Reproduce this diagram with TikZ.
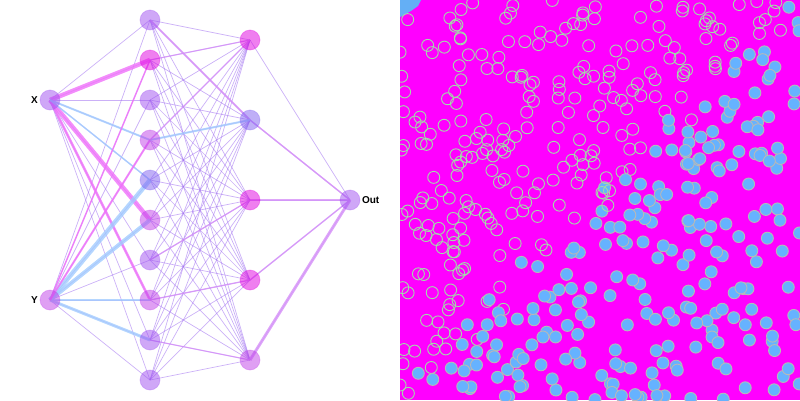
\documentclass[tikz,border=0pt]{standalone}
\usepackage{fontspec}
\setsansfont{Liberation Sans}
\usetikzlibrary{backgrounds}

\definecolor{nnpurple}{HTML}{A050F0}
\definecolor{nnmagenta}{HTML}{E000E0}
\definecolor{nnviolet}{HTML}{8060F0}
\definecolor{nnorchid}{HTML}{C040E8}
\definecolor{wirethin}{HTML}{A070F0}
\definecolor{wiremag}{HTML}{F070FA}
\definecolor{wireorchid}{HTML}{D690F8}
\definecolor{wireblue}{HTML}{A2CCFF}
\definecolor{field}{HTML}{FF00FF}
\definecolor{fieldblue}{HTML}{64AFF5}
\definecolor{dotblue}{HTML}{66B2FF}
\definecolor{ringgreen}{HTML}{A2DCA8}
\definecolor{dotrim}{HTML}{B8B8B8}

\tikzset{
  unit/.style={circle, inner sep=0pt, minimum size=20pt, fill=#1, fill opacity=0.5,
    draw=#1, draw opacity=0.3, line width=0.8pt},
  wire/.style={draw=wirethin, opacity=0.55, line width=0.7pt},
  tag/.style={font=\sffamily\bfseries\fontsize{10}{11}\selectfont, inner sep=1.5pt},
  ringdot/.style={draw=ringgreen, line width=0.9pt},
  bluedot/.style={fill=dotblue, draw=dotrim, line width=0.9pt}
}

\begin{document}
\begin{tikzpicture}[x=1pt, y=-1pt]
\useasboundingbox (0,0) rectangle (800,400);

% network
\node[unit=nnpurple] (inX) at (50,100) {};
\node[unit=nnorchid] (inY) at (50,300) {};
\foreach \k/\c in {1/nnpurple, 2/nnmagenta, 3/nnpurple, 4/nnorchid, 5/nnviolet,
                   6/nnorchid, 7/nnpurple, 8/nnorchid, 9/nnpurple, 10/nnpurple}
  \node[unit=\c] (a\k) at (150,40*\k-20) {};
\foreach \k/\c in {1/nnmagenta, 2/nnviolet, 3/nnmagenta, 4/nnmagenta, 5/nnorchid}
  \node[unit=\c] (b\k) at (250,80*\k-40) {};
\node[unit=nnpurple] (out) at (350,200) {};

\node[tag, anchor=east] (labX) at (inX.west) {X};
\node[tag, anchor=east] (labY) at (inY.west) {Y};
\node[tag, anchor=west] (labOut) at (out.east) {Out};

\begin{pgfonlayer}{background}
\foreach \s in {inX,inY}
  \foreach \t in {1,...,10}
    \draw[wire] (\s.center) -- (a\t.center);
\foreach \s in {1,...,10}
  \foreach \t in {1,...,5}
    \draw[wire] (a\s.center) -- (b\t.center);
\foreach \s in {1,...,5}
  \draw[wire] (b\s.center) -- (out.center);
% strong weights
\foreach \s/\t/\c/\w in {inX/a2/wiremag/4.5, inX/a6/wiremag/4.5, inX/a8/wiremag/2.5,
    inX/a4/wireblue/2, inX/a5/wireblue/1.5, inY/a5/wireblue/4.5, inY/a6/wireblue/4,
    inY/a9/wireblue/3, inY/a8/wireblue/1.5, inY/a4/wiremag/2, inY/a2/wiremag/1.5,
    a1/b2/wireorchid/1.8, a4/b2/wireblue/2, a4/b1/wireorchid/1.3, a2/b1/wireorchid/1.1,
    a7/b3/wireorchid/1.3, a8/b4/wireorchid/1.3, a9/b5/wireorchid/1.1,
    b2/out/wireorchid/1.5, b3/out/wireorchid/1.4, b4/out/wireorchid/1.4, b5/out/wireorchid/3}
  \draw[draw=\c, opacity=0.8, line width=\w pt] (\s.center) -- (\t.center);
\end{pgfonlayer}

% decision field and data
\begin{scope}
\clip (400,0) rectangle (800,400);
\fill[field] (400,0) rectangle (800,400);
\fill[fieldblue] (400,0) -- (421,0) -- (418,6) -- (411,11) -- (404,15) -- (400,17) -- cycle;
\pgfmathsetseed{7}
\foreach \i in {1,...,480}{
  \pgfmathsetmacro{\px}{400+400*rnd}
  \pgfmathsetmacro{\py}{400*rnd}
  \pgfmathsetmacro{\pd}{\px+\py-802+24*rand}
  \ifdim\pd pt>0pt
    \draw[bluedot] (\px,\py) circle[radius=6pt];
  \else
    \draw[ringdot] (\px,\py) circle[radius=6pt];
  \fi
}
\end{scope}
\end{tikzpicture}
\end{document}
